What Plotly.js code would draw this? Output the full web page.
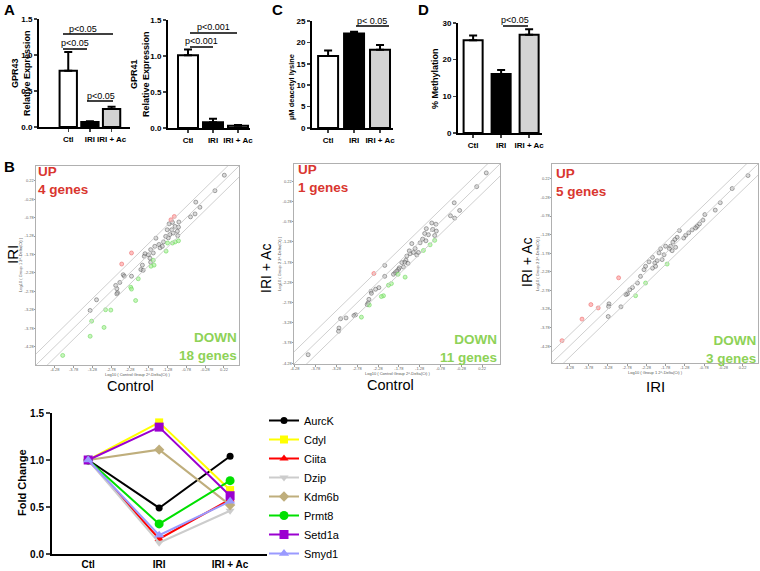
<!DOCTYPE html>
<html><head><meta charset="utf-8">
<script src="https://cdn.plot.ly/plotly-3.0.1.min.js"></script>
<style>html,body{margin:0;padding:0;background:#fff}#chart{width:760px;height:571px}</style>
</head><body><div id="chart"></div>
<script>
// ---------- DATA ----------
const groups = ['Ctl', 'IRI', 'IRI + Ac'];
const gpr43 = [0.78, 0.07, 0.25];
const gpr43Err = [0.26, 0.01, 0.03];
const gpr41 = [1.01, 0.08, 0.03];
const gpr41Err = [0.08, 0.05, 0.01];
const lysine = [16.8, 22.1, 18.3];
const lysineErr = [1.3, 0.4, 1.1];
const methyl = [25.3, 16.1, 26.8];
const methylErr = [1.3, 1.1, 1.5];

// scatter 1: Control (x) vs IRI (y)
const s1GrayX = [0.23,-0.02,-0.53,-0.42,-0.55,-0.67,-1.24,-1.15,-0.98,-1.08,-0.99,-1.02,-1.17,-1.29,-1.13,-1.01,-1.22,-1.33,-1.26,-1.59,-1.39,-1.51,-1.62,-1.73,-1.48,-1.42,-1.88,-1.90,-1.79,-1.66,-1.75,-1.73,-1.95,-1.99,-1.93,-2.46,-2.43,-2.55,-2.66,-2.63,-2.61,-2.63,-2.24,-3.17,-3.34];
const s1GrayY = [0.37,-0.05,-0.36,-0.50,-0.68,-0.76,-0.95,-0.91,-0.90,-1.02,-1.04,-1.15,-1.11,-1.11,-1.20,-1.27,-1.24,-1.29,-1.33,-1.34,-1.44,-1.51,-1.56,-1.65,-1.60,-1.56,-1.76,-1.83,-1.79,-1.74,-1.88,-1.99,-2.07,-2.19,-2.21,-2.33,-2.37,-2.54,-2.62,-2.71,-2.82,-2.85,-2.37,-3.01,-3.30];
const s1UpX = [-1.10,-1.19,-2.24,-2.50];
const s1UpY = [-0.75,-0.84,-1.74,-2.04];
const s1DownX = [-0.99,-1.08,-1.15,-1.32,-1.64,-1.72,-2.06,-2.26,-2.24,-2.13,-2.93,-2.79,-3.30,-2.97,-3.34,-4.07,-1.66,-1.28];
const s1DownY = [-1.41,-1.44,-1.47,-1.69,-2.07,-2.10,-2.44,-2.67,-2.72,-3.03,-3.28,-3.29,-3.59,-3.76,-4.00,-4.52,-1.94,-1.47];

// scatter 2: Control (x) vs IRI + Ac (y)
const s2GrayX = [0.32,0.09,-0.45,-0.54,-0.44,-0.32,-0.99,-0.89,-1.12,-0.97,-0.88,-1.16,-1.07,-0.92,-1.21,-1.13,-1.27,-1.47,-1.39,-1.53,-1.51,-1.43,-1.35,-1.31,-1.59,-1.61,-1.64,-1.71,-1.56,-1.67,-1.77,-1.79,-1.87,-1.91,-1.83,-2.12,-2.12,-2.26,-2.34,-2.45,-2.44,-2.50,-2.52,-2.54,-2.82,-2.86,-3.05,-3.18,-3.22,-3.23,-3.96];
const s2GrayY = [0.43,0.09,-0.31,-0.63,-0.69,-0.50,-0.81,-0.84,-0.95,-0.97,-1.01,-1.07,-1.10,-1.12,-1.21,-1.25,-1.30,-1.32,-1.44,-1.50,-1.57,-1.54,-1.60,-1.54,-1.63,-1.73,-1.78,-1.79,-1.81,-1.90,-1.92,-1.96,-2.04,-2.08,-2.00,-1.86,-2.13,-2.41,-2.45,-2.50,-2.55,-2.70,-2.79,-2.83,-3.08,-3.10,-3.16,-3.18,-3.41,-3.49,-4.07];
const s2UpX = [-2.38];
const s2UpY = [-2.06];
const s2DownX = [-0.92,-1.03,-1.19,-1.63,-1.80,-1.96,-2.03,-2.15,-2.20,-2.49,-2.68];
const s2DownY = [-1.24,-1.35,-1.49,-2.15,-2.08,-2.31,-2.35,-2.61,-2.63,-2.84,-3.14];

// scatter 3: IRI (x) vs IRI + Ac (y)
const s3GrayX = [0.36,-0.05,-0.36,-0.49,-0.76,-0.81,-0.90,-0.96,-1.00,-1.09,-1.18,-1.26,-1.31,-1.42,-1.48,-1.54,-1.59,-1.65,-1.68,-1.61,-1.52,-1.78,-1.91,-1.95,-1.82,-1.87,-2.00,-2.06,-2.12,-2.21,-2.30,-2.34,-2.12,-2.04,-2.43,-2.51,-2.64,-2.71,-2.77,-2.81,-2.94,-3.25,-3.26,-3.27];
const s3GrayY = [0.31,-0.04,-0.42,-0.62,-0.74,-0.89,-0.99,-1.06,-1.10,-1.15,-1.23,-1.30,-1.37,-1.17,-1.35,-1.41,-1.48,-1.59,-1.66,-1.71,-1.62,-1.59,-1.66,-1.77,-1.82,-1.95,-1.98,-2.04,-1.89,-2.01,-2.13,-2.22,-2.18,-2.13,-2.40,-2.58,-2.70,-2.76,-2.87,-2.89,-3.22,-3.14,-3.21,-3.48];
const s3UpX = [-3.00,-3.72,-3.53,-3.95,-4.47];
const s3UpY = [-2.44,-3.16,-3.25,-3.55,-4.13];
const s3DownX = [-1.74,-2.30,-2.56];
const s3DownY = [-2.07,-2.58,-2.92];

const scatterTicks = [-4.28,-3.78,-3.28,-2.78,-2.28,-1.78,-1.28,-0.78,-0.28,0.22];

// fold change line chart
const genes = ['AurcK','Cdyl','Ciita','Dzip','Kdm6b','Prmt8','Setd1a','Smyd1'];
const aurck  = [1.0, 0.49, 1.04];
const cdyl   = [1.0, 1.40, 0.68];
const ciita  = [1.0, 0.16, 0.58];
const dzip   = [1.0, 0.12, 0.46];
const kdm6b  = [1.0, 1.11, 0.52];
const prmt8  = [1.0, 0.32, 0.78];
const setd1a = [1.0, 1.35, 0.62];
const smyd1  = [1.0, 0.20, 0.56];
const foldSeries = [aurck, cdyl, ciita, dzip, kdm6b, prmt8, setd1a, smyd1];

// ---------- STYLE / LAYOUT ----------
const FONT = 'Arial, "Liberation Sans", sans-serif';
const W = 760, H = 571;
const px = x => x / W, py = y => 1 - y / H;
const dom = (a, b) => [a / W, b / W];
const domY = (top, bottom) => [1 - bottom / H, 1 - top / H];
const barFills = ['#ffffff', '#000000', '#d3d3d3'];

const traces = [];
const layout = {
  width: W, height: H, margin: {l: 0, r: 0, t: 0, b: 0},
  paper_bgcolor: '#fff', plot_bgcolor: 'rgba(0,0,0,0)',
  font: {family: FONT, color: '#000'},
  hovermode: false, showlegend: true,
  annotations: [], shapes: []
};

function ann(x, y, text, o) {
  o = o || {};
  layout.annotations.push(Object.assign({
    xref: 'paper', yref: 'paper', x: px(x), y: py(y), text: text, showarrow: false,
    xanchor: 'center', yanchor: 'middle',
    font: {family: FONT, size: o.size || 9, color: o.color || '#000', weight: o.weight || 400}
  }, o.extra || {}));
}
function hline(x0, x1, y, w) {
  layout.shapes.push({type: 'line', xref: 'paper', yref: 'paper', x0: px(x0), x1: px(x1), y0: py(y), y1: py(y), line: {color: '#000', width: w || 1.5}});
}

function barPanel(n, vals, errs, xd, yd, xr, yMax, dtick, fmt, bw) {
  traces.push({
    type: 'bar', x: groups, y: vals, xaxis: 'x' + n, yaxis: 'y' + n, width: bw,
    marker: {color: barFills, line: {color: '#000', width: 2}},
    error_y: {type: 'data', symmetric: false, array: errs, arrayminus: errs.map(() => 0), color: '#000', thickness: 2, width: 4},
    showlegend: false, hoverinfo: 'skip'
  });
  layout['xaxis' + n] = {domain: dom(xd[0], xd[1]), anchor: 'y' + n, type: 'category', range: xr,
    showline: true, linewidth: 2, linecolor: '#000', ticks: 'outside', ticklen: 3, tickwidth: 1.5, tickangle: 0,
    tickfont: {size: 8, weight: 700}, showgrid: false, zeroline: false, fixedrange: true};
  layout['yaxis' + n] = {domain: domY(yd[0], yd[1]), anchor: 'x' + n, range: [0, yMax], dtick: dtick, tickformat: fmt,
    showline: true, linewidth: 2, linecolor: '#000', ticks: 'outside', ticklen: 3, tickwidth: 1.5,
    tickfont: {size: 8, weight: 700}, showgrid: false, zeroline: false, fixedrange: true};
}

barPanel(1, gpr43, gpr43Err, [39, 130], [19, 127], [-1.35, 2.85], 1.5, 0.5, '.1f', 0.8);
barPanel(2, gpr41, gpr41Err, [168, 250], [20, 128], [-0.8, 2.48], 1.5, 0.5, '.1f', 0.8);
barPanel(3, lysine, lysineErr, [312, 393], [21, 128], [-0.62, 2.5], 25, 5, 'd', 0.77);
barPanel(4, methyl, methylErr, [458, 542], [23, 133], [-0.54, 2.46], 30, 10, 'd', 0.68);

// bar y titles
ann(21, 73, 'GPR43<br>Relative Expression', {size: 9, weight: 700, extra: {textangle: -90}});
ann(140, 74, 'GPR41<br>Relative Expression', {size: 9, weight: 700, extra: {textangle: -90}});
ann(292, 87, 'µM deacetyl lysine', {size: 7.5, weight: 700, extra: {textangle: -90}});
ann(435, 78, '% Methylation', {size: 9, weight: 700, extra: {textangle: -90}});

// significance brackets
hline(63, 113, 34); ann(83, 29, 'p<0.05', {size: 9});
hline(63, 87, 49);  ann(75, 43, 'p<0.05', {size: 9});
hline(87, 113, 101); ann(101, 96, 'p<0.05', {size: 9});
hline(190, 237, 33); ann(213, 27, 'p<0.001', {size: 9});
hline(190, 213, 47); ann(201, 41, 'p<0.001', {size: 9});
hline(356, 389, 26); ann(372, 21, 'p< 0.05', {size: 9});
hline(503, 528, 26); ann(515, 20, 'p<0.05', {size: 9});

// panel letters
ann(9, 9, 'A', {size: 15, weight: 700});
ann(277, 9, 'C', {size: 15, weight: 700});
ann(423, 9, 'D', {size: 15, weight: 700});
ann(9, 166, 'B', {size: 15, weight: 700});

// ---------- SCATTER PANELS ----------
const FOLD = Math.log10(2);
function scatterPanel(n, xd, yd, rng, gx, gy, ux, uy, dx, dy) {
  const ax = {range: rng, showline: true, mirror: true, linecolor: '#b0b0b0', linewidth: 1,
    ticks: 'outside', ticklen: 1.5, tickcolor: '#999', tickvals: scatterTicks, ticktext: scatterTicks.map(v => v.toFixed(2)),
    tickfont: {size: 4, color: '#666'}, ticklabelstandoff: -1, showgrid: false, zeroline: false, fixedrange: true};
  layout['xaxis' + n] = Object.assign({}, ax, {domain: dom(xd[0], xd[1]), anchor: 'y' + n, tickangle: 0});
  layout['yaxis' + n] = Object.assign({}, ax, {domain: domY(yd[0], yd[1]), anchor: 'x' + n});
  [-FOLD, 0, FOLD].forEach(off => layout.shapes.push({type: 'line', xref: 'x' + n, yref: 'y' + n,
    x0: -6, y0: -6 + off, x1: 2, y1: 2 + off, line: {color: '#cfcfcf', width: 1}}));
  const mk = (x, y, fill, edge) => ({type: 'scatter', mode: 'markers', x: x, y: y, xaxis: 'x' + n, yaxis: 'y' + n,
    marker: {size: 4, color: fill, line: {color: edge, width: 0.7}}, showlegend: false, hoverinfo: 'skip'});
  traces.push(mk(gx, gy, 'rgba(175,175,175,0.45)', 'rgba(90,90,90,0.75)'));
  traces.push(mk(ux, uy, 'rgba(255,150,150,0.6)', 'rgba(235,110,110,0.85)'));
  traces.push(mk(dx, dy, 'rgba(160,240,140,0.6)', 'rgba(110,215,95,0.85)'));
}
scatterPanel(5, [36, 239], [166, 365], [-4.78, 0.62], s1GrayX, s1GrayY, s1UpX, s1UpY, s1DownX, s1DownY);
scatterPanel(6, [294, 500], [164, 364], [-4.3, 0.65], s2GrayX, s2GrayY, s2UpX, s2UpY, s2DownX, s2DownY);
scatterPanel(7, [552, 758], [164, 363], [-4.73, 0.62], s3GrayX, s3GrayY, s3UpX, s3UpY, s3DownX, s3DownY);

const RED = '#d9362f', GREEN = '#8ed257';
function upDown(xl, yUp, nUp, xr, yDown, nDown) {
  ann(xl, yUp, 'UP<br>' + nUp + ' genes', {size: 13.5, weight: 700, color: RED, extra: {xanchor: 'left', align: 'left', borderpad: 0}});
  ann(xr, yDown, 'DOWN<br>' + nDown + ' genes', {size: 13.5, weight: 700, color: GREEN, extra: {xanchor: 'right', align: 'right', borderpad: 0}});
}
upDown(37, 180, s1UpX.length, 238, 346, s1DownX.length);
upDown(297, 178, s2UpX.length, 498, 348, s2DownX.length);
upDown(555, 182, s3UpX.length, 757, 349, s3DownX.length);

// scatter tiny titles
ann(137, 374, 'Log10 ( Control Group 2^-Delta(Ct) )', {size: 4, color: '#555'});
ann(21, 265, 'Log10 ( Group 1 2^-Delta(Ct) )', {size: 4, color: '#555', extra: {textangle: -90}});
ann(397, 373, 'Log10 ( Control Group 2^-Delta(Ct) )', {size: 4, color: '#555'});
ann(279, 264, 'Log10 ( Group 2 2^-Delta(Ct) )', {size: 4, color: '#555', extra: {textangle: -90}});
ann(655, 372, 'Log10 ( Group 1 2^-Delta(Ct) )', {size: 4, color: '#555'});
ann(537, 264, 'Log10 ( Group 2 2^-Delta(Ct) )', {size: 4, color: '#555', extra: {textangle: -90}});

// scatter big titles
ann(12, 255, 'IRI', {size: 15, extra: {textangle: -90}});
ann(130, 386, 'Control', {size: 14.5, extra: {borderpad: 0}});
ann(266, 269, 'IRI + Ac', {size: 14, extra: {textangle: -90}});
ann(390, 385, 'Control', {size: 14.5, extra: {borderpad: 0}});
ann(527, 263, 'IRI + Ac', {size: 14, extra: {textangle: -90}});
ann(655, 386, 'IRI', {size: 15, extra: {borderpad: 0}});

// ---------- FOLD CHANGE LINE CHART ----------
const lineStyles = [
  {color: '#000000', symbol: 'circle', size: 7},
  {color: '#ffff00', symbol: 'square', size: 8},
  {color: '#ff0000', symbol: 'triangle-up', size: 8},
  {color: '#cccccc', symbol: 'triangle-down', size: 8},
  {color: '#bfae7c', symbol: 'diamond', size: 8},
  {color: '#00e000', symbol: 'circle', size: 9},
  {color: '#9b00d0', symbol: 'square', size: 9},
  {color: '#9a9aff', symbol: 'triangle-up', size: 9}
];
genes.forEach((g, i) => {
  const s = lineStyles[i];
  traces.push({type: 'scatter', mode: 'lines+markers', name: g, x: groups, y: foldSeries[i],
    xaxis: 'x8', yaxis: 'y8', line: {color: s.color, width: 2},
    marker: {color: s.color, symbol: s.symbol, size: s.size}, hoverinfo: 'skip', cliponaxis: false});
});
layout.xaxis8 = {domain: dom(52, 267), anchor: 'y8', type: 'category', range: [-0.51, 2.52],
  showline: true, linewidth: 2, linecolor: '#000', ticks: '', tickangle: 0, ticklabelstandoff: 0,
  tickfont: {size: 10, weight: 700}, showgrid: false, zeroline: false, fixedrange: true};
layout.yaxis8 = {domain: domY(413, 554), anchor: 'x8', range: [0, 1.5], dtick: 0.5, tickformat: '.1f',
  showline: true, linewidth: 2, linecolor: '#000', ticks: 'outside', ticklen: 4, tickwidth: 1.5,
  tickfont: {size: 10, weight: 700}, showgrid: false, zeroline: false, fixedrange: true};
ann(22, 483, 'Fold Change', {size: 11, weight: 700, extra: {textangle: -90}});

layout.legend = {x: px(264), y: py(406), xanchor: 'left', yanchor: 'top', font: {size: 11, family: FONT},
  bgcolor: 'rgba(0,0,0,0)', itemwidth: 30, tracegroupgap: 0};

Plotly.newPlot('chart', traces, layout, {staticPlot: true, displayModeBar: false});
</script>
</body></html>
